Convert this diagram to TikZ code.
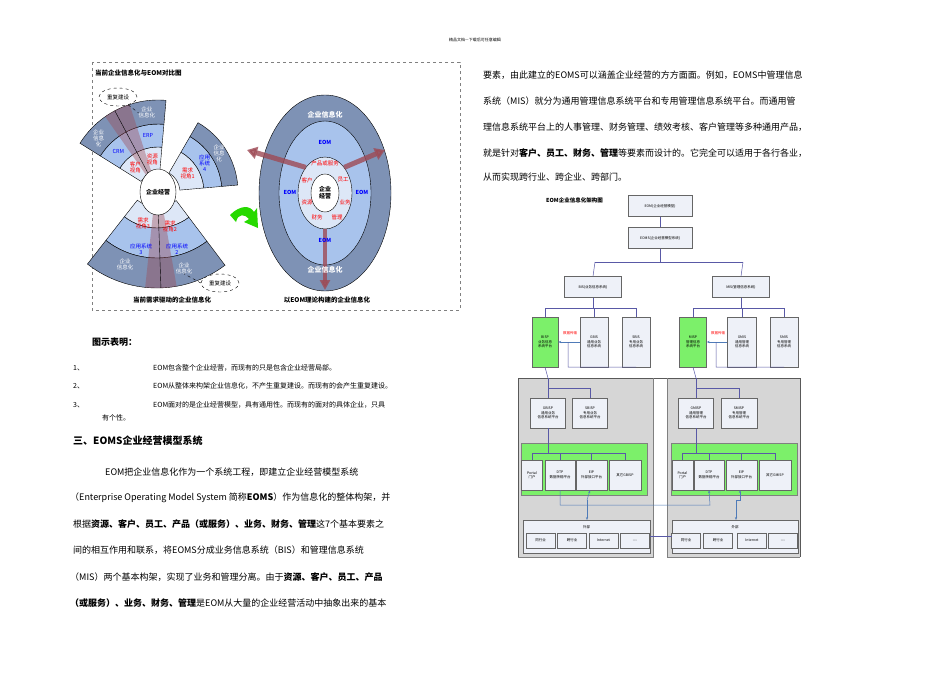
\documentclass[tikz,border=0pt]{standalone}
\usepackage{fontspec}
\setmainfont{Noto Sans CJK SC}
\usetikzlibrary{arrows.meta,shapes.geometric}
\definecolor{og}{HTML}{7E92B5}
\definecolor{mb}{HTML}{A8C3EC}
\definecolor{lb}{HTML}{DDE7F7}
\definecolor{dr}{HTML}{9E4A55}
\definecolor{gb}{HTML}{EEF1F8}
\definecolor{gn}{HTML}{7CF06A}
\definecolor{pg}{HTML}{D6D6D6}
\definecolor{bl}{HTML}{4F7BB8}
\tikzset{
 txt/.style={anchor=west,inner sep=0pt,font=\fontsize{9}{9}\selectfont},
 sm/.style={inner sep=0pt,font=\fontsize{5.5}{6}\selectfont,align=center},
 tiny/.style={inner sep=0pt,font=\fontsize{4}{4.5}\selectfont,align=center},
 abox/.style={draw=gray!80!black,fill=gb,inner sep=0pt,font=\fontsize{3.5}{4.5}\selectfont,align=center},
 gbox/.style={abox,fill=gn},
 ln/.style={draw=gray!70!blue,line width=0.5pt},
 fan/.style={draw=black,line width=0.4pt},
}
\newcommand{\sect}[7]{\filldraw[fan,fill=#7,shift={(#1,#2)}] (#3:#5) arc[start angle=#3,end angle=#4,radius=#5] -- (#4:#6) arc[start angle=#4,end angle=#3,radius=#6] -- cycle;}
\begin{document}
\begin{tikzpicture}[x=1pt,y=-1pt]
\useasboundingbox (0,0) rectangle (950,672);
\fill[white] (0,0) rectangle (950,672);
\node[tiny] (hdr) at (475,40) {精品文档---下载后可任意编辑};
% ===== left figure
\draw[dashed,gray] (92,62) rectangle (460,310);
\node[anchor=west,inner sep=0pt,font=\fontsize{6.5}{7}\selectfont\bfseries] (t1) at (95,73) {当前企业信息化与EOM对比图};
% top-left fan
\sect{158}{192}{-148}{-85}{20}{45}{lb}
\sect{158}{192}{-148}{-85}{45}{68}{mb}
\sect{158}{192}{-148}{-85}{68}{92}{og}
\fill[dr,opacity=0.4,shift={(158,192)}] (-125:20) -- (-125:92) arc[start angle=-125,end angle=-108,radius=92] -- (-108:20) -- cycle;
\draw[fan,shift={(158,192)}] (-118:20) -- (-118:92);
% top-right fan
\sect{158}{192}{-60}{-5}{22}{46}{lb}
\sect{158}{192}{-60}{-5}{46}{64}{mb}
\sect{158}{192}{-60}{-5}{64}{80}{og}
% bottom fan
\sect{157}{175}{53}{128}{32}{53}{lb}
\sect{157}{175}{53}{128}{53}{83}{mb}
\sect{157}{175}{53}{128}{83}{113}{og}
\fill[dr,opacity=0.4,shift={(157,175)}] (80:32) -- (80:113) arc[start angle=80,end angle=96,radius=113] -- (96:32) -- cycle;
\draw[fan,shift={(157,175)}] (88:32) -- (88:113);
\node[ellipse,draw,fill=white,minimum width=36,minimum height=46,inner sep=0pt,font=\fontsize{6}{6}\selectfont\bfseries] (core) at (158,192) {企业经营};
% fan labels
\begin{scope}[shift={(158,192)}]
\node[sm,white] (l1) at (-98:80) {企业\\信息化};
\node[sm,white] (l2) at (-138:80) {企业\\信息\\化};
\node[sm,blue] (l3) at (-100:57) {ERP};
\node[sm,blue] (l4) at (-134:57) {CRM};
\node[sm,red] (l5) at (-100:33) {资源\\视角};
\node[sm,red] (l6) at (-133:33) {客户\\视角};
\node[sm,red] (l7) at (-32:35) {需求\\视角1};
\node[sm,blue] (l8) at (-32:55) {应用\\系统\\4};
\node[sm,white] (l9) at (-32:72) {企业\\信息\\化};
\end{scope}
\node[sm,red] (l10) at (143,223) {需求\\视角3};
\node[sm,red] (l11) at (170,226) {需求\\视角2};
\node[sm,blue] (l12) at (141,249) {应用系统\\3};
\node[sm,blue] (l13) at (177,249) {应用系统\\2};
\node[sm,white] (l14) at (125,264) {企业\\信息化};
\node[sm,white] (l15) at (184,268) {企业\\信息化};
\node[ellipse,draw,dashed,fill=white,minimum width=38,minimum height=18,sm] (r1) at (118,97) {重复建设};
\node[ellipse,draw,dashed,fill=white,minimum width=38,minimum height=18,sm] (r2) at (220,283) {重复建设};
\draw[dashed] (r1) -- (l1.west);
\draw[dashed] (r2.west) -- (l15.south);
\node[inner sep=0pt,font=\fontsize{6.5}{7}\selectfont\bfseries] (c1) at (172,300) {当前需求驱动的企业信息化};
% green arrow
\fill[green!70!olive] (230,215) .. controls (240,205) and (250,205) .. (254,212) -- (257,208) -- (258,228) -- (244,222) -- (249,219) .. controls (245,214) and (238,213) .. (236,222) -- cycle;
% right rings
\node[ellipse,draw,fill=og,minimum width=132,minimum height=196,inner sep=0pt] (e1) at (325,193) {};
\node[ellipse,draw,fill=mb,minimum width=92,minimum height=144,inner sep=0pt] (e2) at (325,193) {};
\node[ellipse,draw,fill=lb,minimum width=54,minimum height=72,inner sep=0pt] (e3) at (325,193) {};
\draw[-{Triangle[width=12pt,length=10pt]},line width=5pt,dr,opacity=0.8] (e3.north west) -- (247,150);
\draw[-{Triangle[width=12pt,length=10pt]},line width=5pt,dr,opacity=0.8] (e3.north east) -- (385,150);
\draw[-{Triangle[width=10pt,length=10pt]},line width=4pt,dr,opacity=0.8] (e3.south) -- (325,290);
\node[ellipse,draw,fill=white,minimum width=28,minimum height=38,inner sep=0pt,font=\fontsize{6}{7}\selectfont\bfseries,align=center] (core2) at (325,193) {企业\\经营};
\node[sm,white,font=\fontsize{7}{7}\selectfont\bfseries] (w1) at (325,115) {企业信息化};
\node[sm,white,font=\fontsize{7}{7}\selectfont\bfseries] (w2) at (325,270) {企业信息化};
\foreach \n/\x/\y in {m1/325/142,m2/290/192,m3/362/192,m4/325/240}
  \node[sm,blue,font=\fontsize{5.5}{6}\selectfont\bfseries] (\n) at (\x,\y) {EOM};
\node[sm,red] (i1) at (325,163) {产品或服务};
\node[sm,red] (i2) at (307,180) {客户};
\node[sm,red] (i3) at (343,180) {员工};
\node[sm,red] (i4) at (307,202) {资源};
\node[sm,red] (i5) at (345,202) {业务};
\node[sm,red] (i6) at (317,217) {财务};
\node[sm,red] (i7) at (337,217) {管理};
\node[inner sep=0pt,font=\fontsize{6.5}{7}\selectfont\bfseries] (c2) at (327,300) {以EOM理论构建的企业信息化};
% ===== left text
\node[txt,font=\fontsize{9}{9}\selectfont\bfseries] (h1) at (92,342) {图示表明：};
\node[txt,font=\fontsize{7}{7}\selectfont] (n1) at (73,368) {1、};
\node[txt,font=\fontsize{7}{7}\selectfont] (n2) at (73,386) {2、};
\node[txt,font=\fontsize{7}{7}\selectfont] (n3) at (73,405) {3、};
\node[txt,font=\fontsize{7}{7}\selectfont] (s1) at (153,368) {EOM包含整个企业经营，而现有的只是包含企业经营局部。};
\node[txt,font=\fontsize{7}{7}\selectfont] (s2) at (153,386) {EOM从整体来构架企业信息化，不产生重复建设。而现有的会产生重复建设。};
\node[txt,font=\fontsize{7}{7}\selectfont] (s3) at (153,405) {EOM面对的是企业经营模型，具有通用性。而现有的面对的具体企业，只具};
\node[txt,font=\fontsize{7}{7}\selectfont] (s4) at (102,418) {有个性。};
\node[txt,font=\fontsize{10}{10}\selectfont\bfseries] (h2) at (73,441) {三、EOMS企业经营模型系统};
\node[txt] (p1) at (105,472) {EOM把企业信息化作为一个系统工程，即建立企业经营模型系统};
\node[txt] (p2) at (70,498) {（Enterprise Operating Model System 简称\textbf{EOMS}）作为信息化的整体构架，并};
\node[txt] (p3) at (73,524) {根据\textbf{资源、客户、员工、产品（或服务）、业务、财务、管理}这7个基本要素之};
\node[txt] (p4) at (73,550) {间的相互作用和联系，将EOMS分成业务信息系统（BIS）和管理信息系统};
\node[txt] (p5) at (70,577) {（MIS）两个基本构架，实现了业务和管理分离。由于\textbf{资源、客户、员工、产品}};
\node[txt] (p6) at (70,603) {\textbf{（或服务）、业务、财务、管理}是EOM从大量的企业经营活动中抽象出来的基本};
% right text
\node[txt] (q1) at (483,75) {要素，由此建立的EOMS可以涵盖企业经营的方方面面。例如，EOMS中管理信息};
\node[txt] (q2) at (483,101) {系统（MIS）就分为通用管理信息系统平台和专用管理信息系统平台。而通用管};
\node[txt] (q3) at (483,127) {理信息系统平台上的人事管理、财务管理、绩效考核、客户管理等多种通用产品，};
\node[txt] (q4) at (483,153) {就是针对\textbf{客户、员工、财务、管理}等要素而设计的。它完全可以适用于各行各业，};
\node[txt] (q5) at (483,177) {从而实现跨行业、跨企业、跨部门。};
% ===== architecture
\node[anchor=west,inner sep=0pt,font=\fontsize{5.5}{6}\selectfont\bfseries] (at) at (546,200) {EOM企业信息化架构图};
\fill[pg] (518,378) rectangle (653,557);
\fill[pg] (667,378) rectangle (800,557);
\draw[gray!70!black] (518,557) -- (518,378) -- (800,378) -- (800,557);
\draw[gray] (518,557) -- (653,557) -- (653,378);
\draw[gray] (667,557) -- (800,557) (667,557) -- (667,378);
\node[abox,minimum width=64,minimum height=21] (eom) at (660,206) {EOM(企业经营模型)};
\node[abox,minimum width=64,minimum height=21] (eoms) at (660,238) {EOMS(企业经营模型系统)};
\node[abox,minimum width=57,minimum height=21] (bis) at (593,287) {BIS(业务信息系统)};
\node[abox,minimum width=57,minimum height=21] (mis) at (741,287) {MIS(管理信息系统)};
\draw[ln] (eom) -- (eoms);
\draw[ln] (eoms.south) -- (660,262) coordinate (j0);
\draw[ln] (595,262) -- (743,262);
\draw[ln] (595,262) -- (bis.north);
\draw[ln] (743,262) -- (mis.north);
% BIS children
\node[gbox,minimum width=26,minimum height=50] (bmsp) at (545,342) {BISP\\业务信息\\系统平台};
\node[abox,minimum width=28,minimum height=50] (gbis) at (594,342) {GBIS\\通用业务\\信息系统};
\node[abox,minimum width=28,minimum height=50] (sbis) at (636,342) {SBIS\\专用业务\\信息系统};
\draw[ln] (bis.south) -- (593,308);
\draw[ln] (545,308) -- (636,308);
\draw[ln] (545,308) -- (bmsp.north);
\draw[ln] (594,308) -- (gbis.north);
\draw[ln] (636,308) -- (sbis.north);
\node[tiny,red,font=\fontsize{3.5}{4}\selectfont] (dt1) at (570,333) {数据传输};
\draw[ln,-{Stealth[length=3pt]},bl] (gbis.west |- 342,342) -- (bmsp.east |- 342,342);
\draw[ln] (568,342) -- (568,367) -- (sbis.south);
% MIS children
\node[gbox,minimum width=27,minimum height=50] (misp) at (693,342) {MISP\\管理信息\\系统平台};
\node[abox,minimum width=29,minimum height=50] (gmis) at (742,342) {GMIS\\通用管理\\信息系统};
\node[abox,minimum width=28,minimum height=50] (smis) at (784,342) {SMIS\\专用管理\\信息系统};
\draw[ln] (mis.south) -- (741,308);
\draw[ln] (693,308) -- (784,308);
\draw[ln] (693,308) -- (misp.north);
\draw[ln] (742,308) -- (gmis.north);
\draw[ln] (784,308) -- (smis.north);
\node[tiny,red,font=\fontsize{3.5}{4}\selectfont] (dt2) at (718,333) {数据传输};
\draw[ln,-{Stealth[length=3pt]},bl] (gmis.west |- 342,342) -- (misp.east |- 342,342);
\draw[ln] (716,342) -- (716,367) -- (smis.south);
\draw[ln] (bmsp.south) -- (548,378);
\draw[ln] (misp.south) -- (696,378);
% second level
\node[abox,minimum width=35,minimum height=30] (gbisp) at (548,413) {GBISP\\通用业务\\信息系统平台};
\node[abox,minimum width=35,minimum height=30] (sbisp) at (590,413) {SBISP\\专用业务\\信息系统平台};
\node[abox,minimum width=35,minimum height=30] (gmisp) at (696,413) {GMISP\\通用管理\\信息系统平台};
\node[abox,minimum width=36,minimum height=30] (smisp) at (739,413) {SMISP\\专用管理\\信息系统平台};
\draw[ln] (548,378) -- (gbisp.north);
\draw[ln] (548,388) -- (590,388) -- (sbisp.north);
\draw[ln] (696,378) -- (gmisp.north);
\draw[ln] (696,388) -- (739,388) -- (smisp.north);
% green panels
\node[draw=gray,fill=gn,minimum width=126,minimum height=52,inner sep=0pt] (gp1) at (584,469) {};
\node[draw=gray,fill=gn,minimum width=126,minimum height=52,inner sep=0pt] (gp2) at (734,469) {};
\draw[ln] (gbisp.south) -- (548,453);
\draw[ln] (gmisp.south) -- (696,453);
\node[abox,minimum width=21,minimum height=30] (por1) at (532,475) {Portal\\门户};
\node[abox,minimum width=30,minimum height=30] (dtp1) at (560,475) {DTP\\数据传输平台};
\node[abox,minimum width=31,minimum height=30] (eip1) at (591.5,475) {EIP\\外部接口平台};
\node[abox,minimum width=32,minimum height=30] (oth1) at (625,475) {其它GBISP};
\node[abox,minimum width=21,minimum height=30] (por2) at (682.5,475) {Portal\\门户};
\node[abox,minimum width=30,minimum height=30] (dtp2) at (709,475) {DTP\\数据传输平台};
\node[abox,minimum width=31,minimum height=30] (eip2) at (741.5,475) {EIP\\外部接口平台};
\node[abox,minimum width=32,minimum height=30] (oth2) at (775,475) {其它GMISP};
\draw[ln] (532,453) -- (625,453);
\foreach \n in {por1,dtp1,eip1,oth1} \draw[ln] (\n.north |- 0,453) -- (\n.north);
\draw[ln] (682,453) -- (775,453);
\foreach \n in {por2,dtp2,eip2,oth2} \draw[ln] (\n.north |- 0,453) -- (\n.north);
% external
\node[abox,minimum width=127,minimum height=33,anchor=north] (ex1) at (586.5,520) {};
\node[tiny,font=\fontsize{3.5}{4}\selectfont] (ext1) at (586.5,527) {外部};
\node[abox,minimum width=126,minimum height=33,anchor=north] (ex2) at (735,520) {};
\node[tiny,font=\fontsize{3.5}{4}\selectfont] (ext2) at (735,527) {外部};
\foreach \n/\x/\t in {a1/540.5/同行业,a2/572/跨行业,a3/603.5/Internet,a4/635/----,b1/686/同行业,b2/718/跨行业,b3/752/Internet,b4/783/----}
  \node[abox,minimum width=29,minimum height=15] (\n) at (\x,540.5) {\t};
\draw[ln] (ex1.east) -- (ex2.west);
\draw[ln,-{Stealth[length=3pt]},bl] (dtp1.south) -- (560,505) -- (710,505) -- (dtp2.south);
\draw[ln,-{Stealth[length=3pt]},bl] (587,500) -- (587,520);
\draw[ln,-{Stealth[length=3pt]},bl] (587,500) -- (eip1.south -| 590,490);
\draw[ln,-{Stealth[length=3pt]},bl] (736,500) -- (736,520);
\draw[ln,-{Stealth[length=3pt]},bl] (736,500) -- (740,500) -- (740,490);
\end{tikzpicture}
\end{document}
